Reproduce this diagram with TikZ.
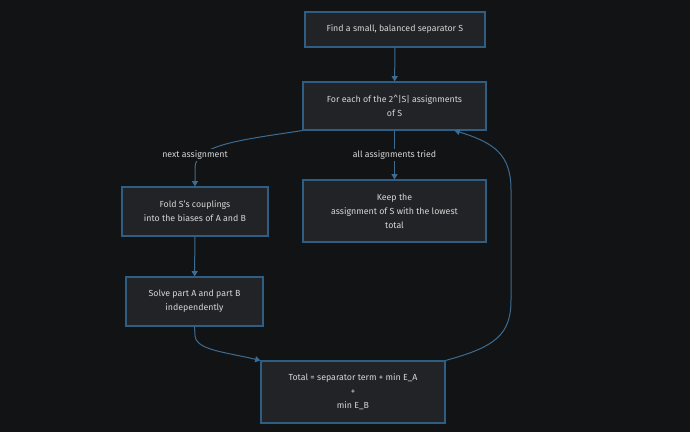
\documentclass[tikz,border=0pt]{standalone}
\usepackage{fontspec}
\setmainfont{Fira Sans}
\usetikzlibrary{arrows.meta,calc}
\definecolor{bgc}{HTML}{121315}
\definecolor{boxfill}{HTML}{222326}
\definecolor{boxline}{HTML}{2F5E84}
\definecolor{edgec}{HTML}{3D6C92}
\definecolor{txt}{HTML}{D6D6D6}
\begin{document}
\begin{tikzpicture}[x=0.75pt,y=-0.75pt,
  flowbox/.style={draw=boxline,fill=boxfill,line width=0.8pt,align=center,inner sep=0pt,
    text=txt,font=\fontsize{6.6}{10.5}\selectfont},
  flowedge/.style={draw=edgec,line width=0.75pt,-{Triangle[length=4pt,width=4.5pt]}},
  elabel/.style={fill=bgc,text=txt,inner sep=1.5pt,font=\fontsize{6.6}{10.5}\selectfont}]
\fill[bgc] (0,0) rectangle (690,432);
\useasboundingbox (0,0) rectangle (690,432);
\node[flowbox,minimum width=135pt,minimum height=26.25pt] (find) at (395,29.5) {Find a small, balanced separator S};
\node[flowbox,minimum width=137.25pt,minimum height=36pt] (each) at (394.5,106) {For each of the 2\^{}|S| assignments\\of S};
\node[flowbox,minimum width=109.5pt,minimum height=36.75pt] (fold) at (195,211.5) {Fold S's couplings\\into the biases of A and B};
\node[flowbox,minimum width=137.25pt,minimum height=46.5pt] (keep) at (394.5,211) {Keep the\\assignment of S with the lowest\\total};
\node[flowbox,minimum width=102.75pt,minimum height=36.75pt] (solve) at (194.5,301.5) {Solve part A and part B\\independently};
\node[flowbox,minimum width=138pt,minimum height=46.5pt] (total) at (353,392) {Total = separator term + min E\_A\\+\\min E\_B};
\draw[flowedge] (find) -- (each);
\draw[flowedge] (each.south west) .. controls (240,140) and (195,145) .. (195,168) -- (fold.north);
\draw[flowedge] (each) -- (keep);
\draw[flowedge] (fold) -- (solve);
\draw[flowedge] (solve.south) -- (195,335) .. controls (195,350) and (225,352) .. (total.north west);
\draw[flowedge] (total.north east) .. controls (495,347) and (511,335) .. (511,300) -- (511,190)
  .. controls (511,155) and (495,143) .. ($(each.south)+(60,0)$);
\node[elabel] (lnext) at (195,155) {next assignment};
\node[elabel] (lall) at (394.5,155) {all assignments tried};
\end{tikzpicture}
\end{document}
